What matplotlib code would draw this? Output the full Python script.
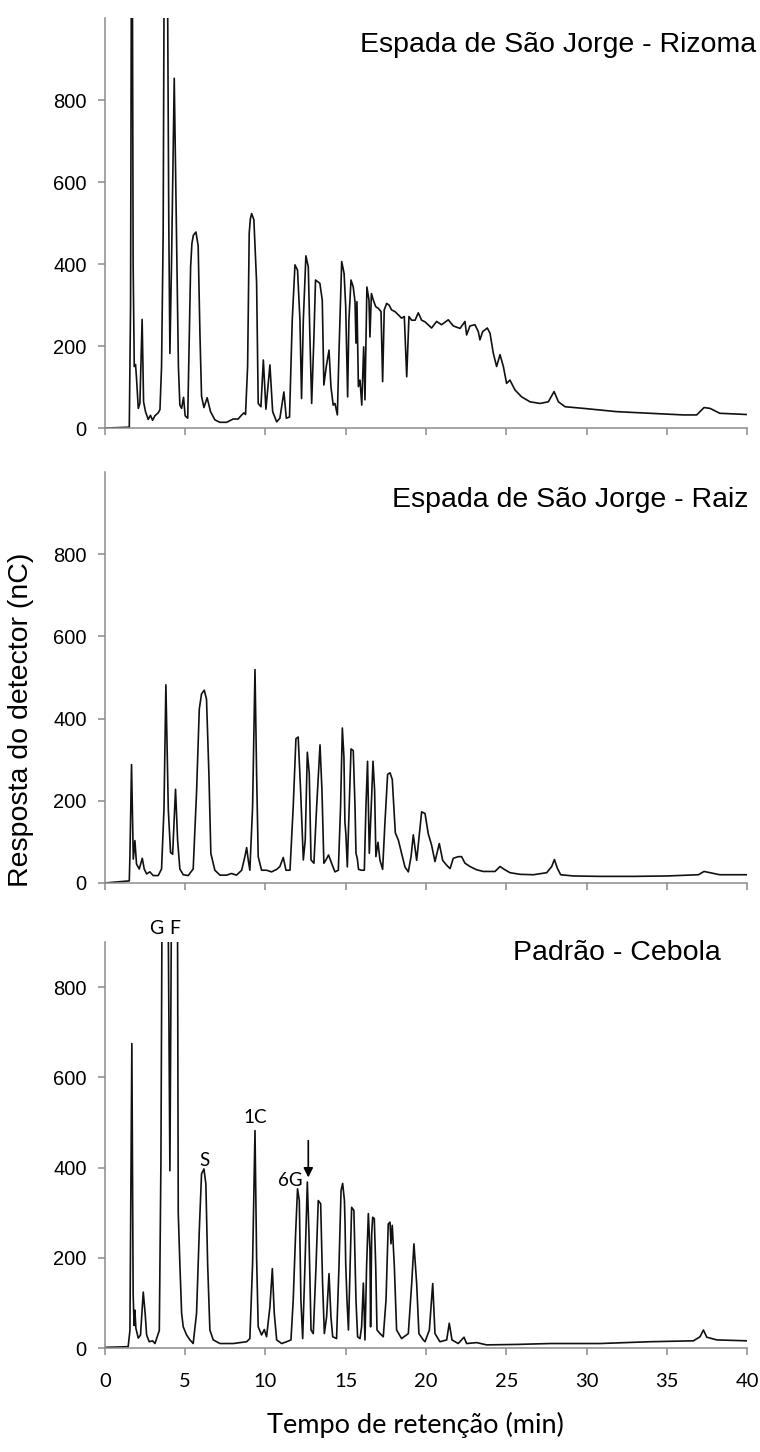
import matplotlib
matplotlib.use('Agg')
import matplotlib.pyplot as plt

# Cromatogramas (tempo em min, resposta em nC)
rizoma_t = [0, 1.52, 1.6, 1.68, 1.76, 1.83, 1.91, 1.97, 2.08, 2.18, 2.32, 2.41, 2.53, 2.70, 2.84, 2.97,
            3.12, 3.32, 3.43, 3.53, 3.63, 3.72, 3.86, 3.98, 4.05, 4.15, 4.32, 4.45, 4.58, 4.67, 4.78,
            4.9, 5.0, 5.16, 5.34, 5.42, 5.51, 5.67, 5.81, 5.92, 6.02, 6.17, 6.37, 6.58, 6.85, 7.16, 7.58,
            7.99, 8.3, 8.5, 8.66, 8.76, 8.89, 8.99, 9.06, 9.14, 9.28, 9.45, 9.55, 9.72, 9.87, 10.03, 10.28,
            10.45, 10.7, 10.9, 11.15, 11.3, 11.5, 11.67, 11.84, 12.0, 12.15, 12.25, 12.36, 12.52,
            12.67, 12.77, 12.88, 13.02, 13.12, 13.25, 13.39, 13.54, 13.64, 13.79, 13.96, 14.08,
            14.22, 14.33, 14.48, 14.58, 14.75, 14.9, 15.0, 15.12, 15.2, 15.33, 15.47, 15.58, 15.64,
            15.7, 15.79, 15.89, 16.0, 16.12, 16.2, 16.32, 16.45, 16.51, 16.6, 16.72, 16.87, 17.03,
            17.2, 17.3, 17.4, 17.55, 17.7, 17.86, 18.07, 18.28, 18.48, 18.65, 18.8, 18.94, 19.11,
            19.32, 19.52, 19.73, 19.94, 20.35, 20.66, 20.97, 21.39, 21.7, 22.12, 22.43, 22.53, 22.74,
            23.05, 23.26, 23.36, 23.53, 23.82, 23.99, 24.19, 24.4, 24.61, 24.82, 25.02, 25.23, 25.54,
            25.96, 26.48, 27.1, 27.62, 27.98, 28.25, 28.66, 29.8, 31.88, 33.96, 36.03, 36.86, 37.32,
            37.69, 38.3, 40]
rizoma_v = [0, 2, 300, 1600, 400, 150, 155, 122, 48, 60, 265, 64, 40, 21, 31, 19,
            30, 37, 45, 150, 475, 1400, 1400, 500, 182, 400, 853, 500, 150, 56, 48,
            75, 30, 24, 393, 450, 470, 478, 445, 231, 78, 50, 74, 40, 20, 14, 14,
            22, 22, 31, 37, 33, 150, 475, 510, 523, 508, 355, 60, 52, 166, 46, 154,
            40, 15, 24, 88, 24, 27, 263, 398, 385, 263, 72, 263, 420,
            393, 222, 60, 222, 361, 357, 353, 312, 105, 150, 190, 101,
            56, 60, 32, 183, 406, 377, 296, 76, 263, 361, 344, 308, 207,
            308, 101, 117, 56, 198, 69, 344, 312, 222, 328, 312, 296, 292,
            284, 113, 288, 304, 300, 288, 284, 276, 268, 272, 125, 272, 263,
            263, 281, 263, 259, 244, 260, 252, 264, 249, 243, 260, 227, 249,
            252, 235, 215, 235, 244, 231, 183, 150, 179, 150, 109, 117, 93,
            76, 64, 60, 64, 89, 64, 52, 48, 40, 36, 32, 32, 50,
            48, 36, 33]

raiz_t = [0, 1.52, 1.56, 1.66, 1.77, 1.87, 1.97, 2.14, 2.33, 2.45, 2.6, 2.8, 3.01, 3.32, 3.53, 3.68,
          3.8, 3.95, 4.09, 4.22, 4.4, 4.53, 4.67, 4.88, 5.19, 5.5, 5.71, 5.88, 6.02, 6.19, 6.33,
          6.48, 6.6, 6.85, 7.17, 7.58, 7.89, 8.2, 8.52, 8.72, 8.83, 8.93, 9.03, 9.2, 9.35, 9.45,
          9.55, 9.76, 10.07, 10.38, 10.7, 10.9, 11.11, 11.28, 11.53, 11.73, 11.9, 12.04, 12.19,
          12.36, 12.48, 12.61, 12.73, 12.84, 13.02, 13.19, 13.4, 13.52, 13.64, 13.77, 13.93, 14.12,
          14.33, 14.54, 14.68, 14.79, 14.89, 14.95, 15.01, 15.1, 15.22, 15.33, 15.47, 15.58, 15.64,
          15.72, 15.8, 15.99, 16.16, 16.26, 16.36, 16.47, 16.59, 16.7, 16.8, 16.88, 17.01, 17.13,
          17.3, 17.44, 17.61, 17.76, 17.9, 18.0, 18.09, 18.28, 18.48, 18.69, 18.9, 19.07, 19.21,
          19.42, 19.73, 19.94, 20.14, 20.35, 20.56, 20.83, 21.04, 21.29, 21.5, 21.7, 22.01, 22.22,
          22.43, 22.74, 23.16, 23.57, 23.99, 24.3, 24.61, 24.92, 25.23, 25.86, 26.69, 27.52, 27.83,
          28.0, 28.18, 28.39, 29.18, 30.84, 32.92, 35.0, 36.97, 37.32, 37.69, 38.3, 40]
raiz_v = [0, 5, 66, 288, 58, 103, 46, 34, 60, 34, 22, 27, 18, 18, 34, 179,
          482, 179, 74, 70, 228, 104, 34, 20, 18, 34, 221, 423, 460, 469, 447,
          265, 72, 31, 19, 19, 23, 19, 31, 64, 86, 56, 31, 185, 519, 266,
          64, 31, 31, 27, 33, 40, 62, 31, 31, 185, 351, 355, 226,
          56, 105, 318, 266, 56, 48, 185, 336, 226, 48, 56, 68, 48,
          27, 31, 185, 377, 306, 148, 120, 39, 185, 326, 322, 185, 72,
          60, 33, 31, 31, 185, 296, 72, 185, 296, 226, 64, 99, 56,
          33, 144, 264, 268, 252, 185, 122, 104, 72, 39, 27, 64, 117,
          55, 173, 169, 120, 92, 52, 96, 55, 43, 35, 60, 64, 64,
          48, 40, 32, 28, 28, 28, 40, 32, 25, 21, 20, 25, 40,
          57, 36, 20, 17, 16, 16, 17, 20, 28, 25, 20, 20]

cebola_t = [0, 1.45, 1.56, 1.68, 1.76, 1.82, 1.87, 1.93, 2.08, 2.22, 2.39, 2.51, 2.6, 2.76, 2.97,
            3.12, 3.26, 3.39, 3.49, 3.6, 3.88, 4.05, 4.2, 4.5, 4.57, 4.67, 4.78, 4.88, 5.09, 5.3,
            5.5, 5.71, 5.88, 6.02, 6.17, 6.29, 6.4, 6.54, 6.75, 7.17, 8.0, 8.83, 9.03, 9.2, 9.35,
            9.45, 9.55, 9.76, 9.93, 10.07, 10.28, 10.43, 10.55, 10.7, 11.01, 11.32, 11.59, 11.73,
            11.88, 12.0, 12.11, 12.21, 12.32, 12.46, 12.61, 12.71, 12.84, 12.98, 13.15, 13.29, 13.44,
            13.56, 13.67, 13.81, 13.96, 14.08, 14.19, 14.43, 14.58, 14.71, 14.81, 14.92, 14.96, 15.0,
            15.08, 15.17, 15.27, 15.37, 15.51, 15.64, 15.74, 15.89, 15.99, 16.1, 16.2, 16.3, 16.41,
            16.51, 16.55, 16.62, 16.68, 16.78, 16.87, 16.95, 17.14, 17.34, 17.51, 17.65, 17.76,
            17.82, 17.9, 18.03, 18.17, 18.48, 18.9, 19.11, 19.25, 19.42, 19.56, 19.83, 19.94, 20.21,
            20.42, 20.56, 20.87, 21.29, 21.45, 21.62, 22.01, 22.37, 22.53, 23.16, 23.78, 25.65, 27.73,
            30.84, 33.96, 36.66, 37.07, 37.28, 37.49, 38.12, 40]
cebola_v = [1.5, 3, 39, 675, 120, 50, 84, 44, 22, 29, 124, 76, 29, 14, 16,
            10, 25, 39, 408, 1300, 1300, 393, 1300, 1300, 300, 187, 77, 47, 29, 18,
            10, 77, 260, 386, 397, 364, 187, 40, 18, 10, 10, 14, 21, 187, 482,
            200, 47, 29, 41, 25, 91, 176, 77, 18, 10, 14, 18, 106,
            254, 353, 327, 106, 21, 180, 368, 254, 40, 32, 180, 327, 320,
            143, 32, 69, 165, 69, 25, 21, 180, 349, 365, 327, 275, 187,
            106, 40, 180, 312, 305, 106, 25, 21, 47, 144, 18, 180, 298,
            217, 47, 254, 290, 287, 180, 40, 32, 25, 106, 275, 279,
            231, 272, 180, 40, 21, 32, 143, 231, 143, 32, 18, 14, 40,
            143, 32, 14, 18, 55, 18, 10, 24, 10, 12, 7, 8, 10,
            10, 14, 16, 25, 40, 24, 18, 16]

titulos = ['Espada de São Jorge - Rizoma', 'Espada de São Jorge - Raiz', 'Padrão - Cebola']
rotulos_picos = ['S', '1C', '6G']
rotulos_t = [6.23, 9.35, 11.55]
rotulos_v = [415, 511, 371]

cinza = '#8c8c8c'
arial = 'Liberation Sans'
calibri = 'Lato'

fig = plt.figure(figsize=(7.6, 14.52), dpi=100)

# [esquerda, base, largura, altura]
posicoes = [[0.138, 0.7052, 0.845, 0.2824],
            [0.138, 0.3919, 0.845, 0.2831],
            [0.138, 0.0716, 0.845, 0.2796]]
series = [(rizoma_t, rizoma_v, 1000), (raiz_t, raiz_v, 1000), (cebola_t, cebola_v, 900)]
titulo_pos = [(0.474, 0.969), (0.516, 0.6556), (0.675, 0.3437)]

eixos = []
for i, (t, v, ymax) in enumerate(series):
    ax = fig.add_axes(posicoes[i])
    ax.plot(t, v, color='#111111', lw=1.2, solid_joinstyle='round')
    ax.set_xlim(0, 40)
    ax.set_ylim(0, ymax)
    for s in ['top', 'right']:
        ax.spines[s].set_visible(False)
    for s in ['left', 'bottom']:
        ax.spines[s].set_color(cinza)
        ax.spines[s].set_linewidth(1.1)
    ax.set_xticks(range(0, 41, 5))
    ax.set_yticks(range(0, 801, 200))
    ax.tick_params(axis='both', direction='out', length=5, width=1.1, color=cinza)
    ax.tick_params(axis='y', pad=8)
    for lab in ax.get_yticklabels():
        lab.set_fontfamily(arial)
        lab.set_fontsize(14.5)
    if i < 2:
        ax.set_xticklabels([])
    else:
        ax.tick_params(axis='x', pad=13)
        for lab in ax.get_xticklabels():
            lab.set_fontfamily(calibri)
            lab.set_fontsize(14.5)
    fig.text(titulo_pos[i][0], titulo_pos[i][1], titulos[i], family=arial, fontsize=20.5,
             ha='left', va='center')
    eixos.append(ax)

# Anotações do padrão
ax = eixos[2]
ax.text(3.22, 930, 'G', family=calibri, fontsize=14, ha='center', va='center', clip_on=False)
ax.text(4.36, 930, 'F', family=calibri, fontsize=14, ha='center', va='center', clip_on=False)
for nome, xt, yt in zip(rotulos_picos, rotulos_t, rotulos_v):
    ax.text(xt, yt, nome, family=calibri, fontsize=13.5, ha='center', va='center')
ax.annotate('', xy=(12.67, 372), xytext=(12.67, 466),
            arrowprops=dict(arrowstyle='-|>', color='black', lw=1.2, mutation_scale=14))

fig.text(0.028, 0.504, 'Resposta do detector (nC)', family=arial, fontsize=20.5,
         rotation=90, ha='center', va='center')
fig.text(0.546, 0.0186, 'Tempo de retenção (min)', family=calibri, fontsize=19.5,
         ha='center', va='center')

fig.savefig('out.png', dpi=100)
